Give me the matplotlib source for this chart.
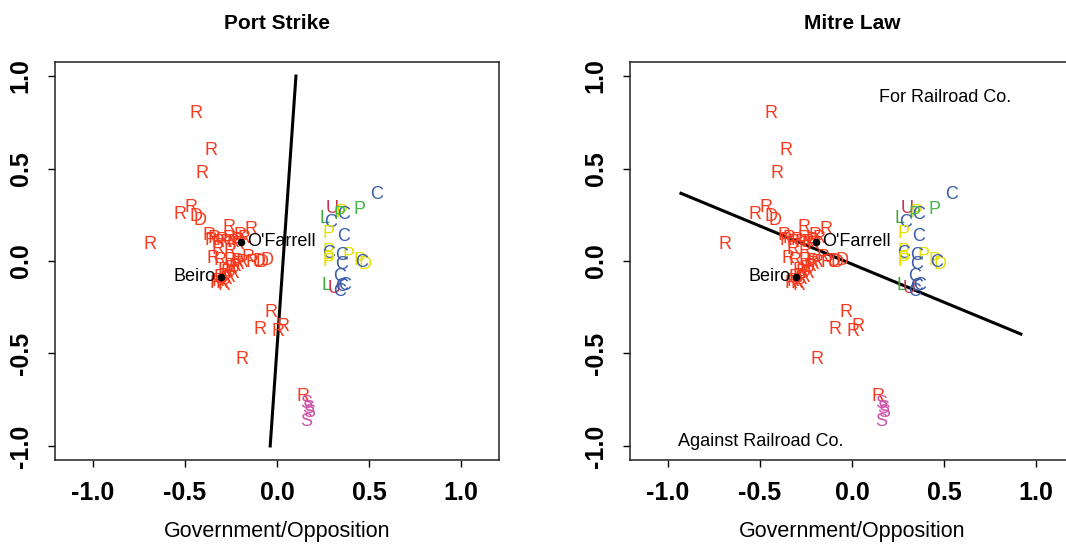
import matplotlib
matplotlib.use("Agg")
import matplotlib.pyplot as plt

plt.rcParams['font.family'] = ['Liberation Sans', 'DejaVu Sans']

# ---- data: legislator ideal points (same in both panels) ----
labels = (
    ["R"] * 8 +                      # scattered upper-left R's
    ["D", "D"] +
    ["R"] * 12 +                     # row near O'Farrell
    ["R"] * 8 + ["D", "D", "D"] +    # row near y=0
    ["R"] * 14 +                     # blob near Beiro
    ["R"] * 6 +                      # lower R's
    ["S", "S", "S", "S"] +
    ["C", "P", "U", "P", "C", "P", "L", "C", "P", "C", "P", "C", "P", "P", "C", "P",
     "C", "P", "D", "C", "L", "U", "C", "C", "C", "C"]
)
xs = (
    [-0.44, -0.36, -0.41, -0.53, -0.47, -0.69, -0.26, -0.14] +
    [-0.44, -0.42] +
    [-0.37, -0.36, -0.34, -0.32, -0.30, -0.28, -0.26, -0.24, -0.22, -0.20, -0.18, -0.21] +
    [-0.35, -0.31, -0.255, -0.22, -0.16, -0.135, -0.32, -0.255, -0.10, -0.055, -0.08] +
    [-0.29, -0.27, -0.25, -0.23, -0.21, -0.19, -0.32, -0.30, -0.28, -0.26, -0.24, -0.31, -0.33, -0.29] +
    [-0.03, -0.09, 0.005, 0.03, -0.19, 0.14] +
    [0.16, 0.17, 0.175, 0.16] +
    [0.54, 0.45, 0.30, 0.35, 0.36, 0.34, 0.26, 0.29, 0.28, 0.36, 0.28, 0.28, 0.28, 0.39, 0.35, 0.45,
     0.35, 0.28, 0.48, 0.46, 0.27, 0.31, 0.34, 0.35, 0.34, 0.37]
)
ys = (
    [0.80, 0.60, 0.475, 0.25, 0.29, 0.09, 0.18, 0.17] +
    [0.24, 0.22] +
    [0.14, 0.11, 0.12, 0.10, 0.11, 0.10, 0.12, 0.10, 0.11, 0.14, 0.12, 0.09] +
    [0.016, 0.005, 0.005, 0.0, 0.02, -0.01, 0.06, 0.05, -0.005, 0.005, -0.01] +
    [-0.05, -0.06, -0.04, -0.03, -0.02, -0.01, -0.11, -0.12, -0.10, -0.09, -0.07, -0.09, -0.12, -0.13] +
    [-0.28, -0.37, -0.38, -0.355, -0.53, -0.73] +
    [-0.77, -0.80, -0.82, -0.87] +
    [0.357, 0.28, 0.285, 0.26, 0.25, 0.25, 0.23, 0.21, 0.15, 0.13, 0.05, 0.04, -0.004, 0.03, 0.03, 0.005,
     -0.02, 0.01, -0.02, -0.01, -0.13, -0.15, -0.085, -0.14, -0.165, -0.13]
)
# colour of each party code; P appears in two colours (two groups)
p_yellow = [False, False, False, True, False, False, False, False, True, False, True, False, True, True, False, True,
            False, True, True, False, False, False, False, False, False, False]

named_x = [-0.197, -0.306]
named_y = [0.104, -0.088]
named_lab = ["O'Farrell", "Beiro"]

# cutting lines (endpoints)
cut_strike_x = [0.103, -0.037]
cut_strike_y = [1.0, -1.0]
cut_mitre_x = [-0.93, 0.918]
cut_mitre_y = [0.366, -0.395]

titles = ["Port Strike", "Mitre Law"]
ticks = [-1.0, -0.5, 0.0, 0.5, 1.0]
tick_labels = ["-1.0", "-0.5", "0.0", "0.5", "1.0"]

colors = {"R": "#F83A1E", "D": "#F83A1E", "U": "#C8324A", "L": "#3BAA3B",
          "C": "#3A5BA8", "P": "#45B845", "S": "#CC55AA"}
yellow = "#E6E000"

W, H = 1066, 544
fig = plt.figure(figsize=(W / 100, H / 100), dpi=100)
ax_w, ax_h = 444 / W, 398 / H
ax_b = (H - 460) / H
axes = [fig.add_axes([55 / W, ax_b, ax_w, ax_h]),
        fig.add_axes([630 / W, ax_b, ax_w, ax_h])]

n_other = len(labels) - len(p_yellow)
for k, ax in enumerate(axes):
    ax.set_xlim(-1.207, 1.207)
    ax.set_ylim(-1.076, 1.076)
    for i, (lab, x, y) in enumerate(zip(labels, xs, ys)):
        c = colors[lab]
        j = i - n_other
        if j >= 0 and p_yellow[j]:
            c = yellow
        ax.text(x, y, lab, color=c, fontsize=13, ha="center", va="center")
    ax.plot(named_x, named_y, "o", color="black", markersize=4.5, zorder=5)
    ax.text(named_x[0] + 0.035, named_y[0], named_lab[0], fontsize=13, ha="left", va="center")
    ax.text(named_x[1] - 0.03, named_y[1] + 0.005, named_lab[1], fontsize=13, ha="right", va="center")
    ax.set_xticks(ticks)
    ax.set_xticklabels(tick_labels, fontsize=18, fontweight="bold")
    ax.set_yticks(ticks)
    ax.set_yticklabels(tick_labels, fontsize=18, fontweight="bold", rotation=90, va="center")
    ax.tick_params(axis="x", length=5, width=1, pad=10)
    ax.tick_params(axis="y", length=5, width=1, pad=11)
    for s in ax.spines.values():
        s.set_linewidth(1.1)
        s.set_color("#222222")
    ax.set_xlabel("Government/Opposition", fontsize=15.5, labelpad=12)
    ax.set_title(titles[k], fontsize=15, fontweight="bold", pad=24)

axes[0].plot(cut_strike_x, cut_strike_y, color="black", linewidth=2.2)
axes[1].plot(cut_mitre_x, cut_mitre_y, color="black", linewidth=2.2)
axes[1].text(0.505, 0.886, "For Railroad Co.", fontsize=13, ha="center", va="center")
axes[1].text(-0.495, -0.978, "Against Railroad Co.", fontsize=13, ha="center", va="center")

fig.savefig("out.png", dpi=100)
